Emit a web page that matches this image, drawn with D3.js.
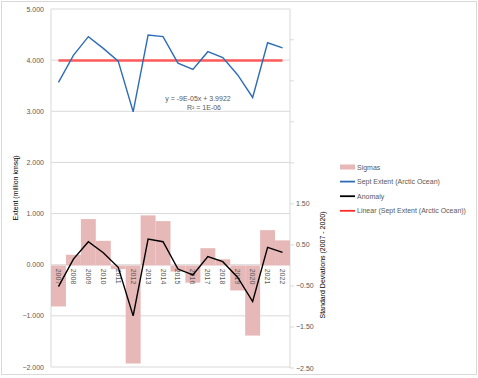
<!DOCTYPE html>
<html><head><meta charset="utf-8">
<script src="https://cdn.jsdelivr.net/npm/d3@7"></script>
<style>body{margin:0;background:#fff}svg{display:block}text{font-family:"Liberation Sans",Arial,sans-serif}</style>
</head><body>
<svg id="c" width="478" height="378"></svg>
<script>
const years = ["2007","2008","2009","2010","2011","2012","2013","2014","2015","2016","2017","2018","2019","2020","2021","2022"];
const extent = [3.567,4.094,4.459,4.23,3.98,2.99,4.49,4.46,3.94,3.82,4.165,4.05,3.71,3.27,4.34,4.24];
const anomaly = [-0.43,0.11,0.45,0.235,-0.05,-1.0,0.50,0.45,-0.085,-0.2,0.16,0.06,-0.25,-0.72,0.34,0.24];
const sigmas = [-1.0,0.26,1.13,0.6,-0.09,-2.39,1.22,1.08,-0.15,-0.42,0.42,0.15,-0.61,-1.71,0.86,0.61];
const trendSlope = -9e-5, trendIntercept = 3.9922;
const leftTicks = [-2,-1,0,1,2,3,4,5];
const rightTicks = [-2.5,-1.5,-0.5,0.5,1.5];
const rightTickMarks = [-2.5,-1.5,-0.5,0.5,1.5,2.5,3.5,4.5,5.5];
const legendItems = [
  {name:"Sigmas", type:"rect", color:"#e6b8b7"},
  {name:"Sept Extent (Arctic Ocean)", type:"line", color:"#2e6db6"},
  {name:"Anomaly", type:"line", color:"#000000"},
  {name:"Linear (Sept Extent (Arctic Ocean))", type:"line", color:"#ff2a2a"}
];

const svg = d3.select("#c");
const L = 51, R = 290, T = 9, B = 367;
const x = d3.scaleBand().domain(years).range([L, R]).padding(0);
const yL = d3.scaleLinear().domain([-2, 5]).range([B, T]);
const yR = d3.scaleLinear().domain([-2.5, 6.25]).range([368, T]);
const cx = d => x(d) + x.bandwidth()/2;

// outer border
svg.append("rect").attr("x",1.5).attr("y",1.5).attr("width",475).attr("height",373)
  .attr("fill","none").attr("stroke","#d9d9d9");

// gridlines
svg.append("g").selectAll("line").data(leftTicks).join("line")
  .attr("x1",L).attr("x2",R).attr("y1",d=>yL(d)).attr("y2",d=>yL(d))
  .attr("stroke","#d9d9d9").attr("stroke-width",1);
// left & right axis lines
svg.append("line").attr("x1",L).attr("x2",L).attr("y1",T).attr("y2",B).attr("stroke","#d9d9d9");
svg.append("line").attr("x1",R).attr("x2",R).attr("y1",T).attr("y2",B+1).attr("stroke","#d9d9d9");
svg.append("g").selectAll("line").data(rightTickMarks).join("line")
  .attr("x1",R).attr("x2",R+4).attr("y1",d=>yR(d)).attr("y2",d=>yR(d)).attr("stroke","#d9d9d9");

// left tick labels
svg.append("g").selectAll("text").data(leftTicks).join("text")
  .attr("x",44).attr("y",d=>yL(d)+2.5).attr("text-anchor","end")
  .attr("font-size",7).attr("fill","#595959").text(d=>d3.format(".3f")(d));
// right tick labels
svg.append("g").selectAll("text").data(rightTicks).join("text")
  .attr("x",296).attr("y",d=>yR(d)+2.5).attr("text-anchor","start")
  .attr("font-size",7).attr("fill","#595959").text(d=>d3.format(".2f")(d));

// bars (right axis)
svg.append("g").selectAll("rect").data(years).join("rect")
  .attr("x",d=>x(d)).attr("width",x.bandwidth())
  .attr("y",(d,i)=>Math.min(yR(0),yR(sigmas[i])))
  .attr("height",(d,i)=>Math.abs(yR(sigmas[i])-yR(0)))
  .attr("fill","#e6b8b7");

// year labels
svg.append("g").selectAll("text").data(years).join("text")
  .attr("transform",d=>`translate(${cx(d)-2.5},${yL(0)+4}) rotate(90)`)
  .attr("font-size",7).attr("fill","#595959").text(d=>d);

// trend line
const xi = years.map((d,i)=>i+1);
const trend = d3.line().x(d=>cx(years[d-1])).y(d=>yL(trendIntercept + trendSlope*d));
svg.append("path").datum([xi[0], xi[xi.length-1]]).attr("d",trend)
  .attr("fill","none").attr("stroke","#ff5a5a").attr("stroke-width",2.5);

// extent line
const lineL = d3.line().x((d,i)=>cx(years[i])).y(d=>yL(d));
svg.append("path").datum(extent).attr("d",lineL)
  .attr("fill","none").attr("stroke","#2e6db6").attr("stroke-width",1.4);
// anomaly line
svg.append("path").datum(anomaly).attr("d",lineL)
  .attr("fill","none").attr("stroke","#000").attr("stroke-width",1.4);

// trend equation
svg.append("text").attr("x",198).attr("y",101).attr("text-anchor","middle")
  .attr("font-size",7).attr("fill","#595959").text("y = -9E-05x + 3.9922");
svg.append("text").attr("x",204).attr("y",110).attr("text-anchor","middle")
  .attr("font-size",7).attr("fill","#595959").text("R² = 1E-06");

// axis titles
svg.append("text").attr("transform","translate(18,188) rotate(-90)").attr("text-anchor","middle")
  .attr("font-size",7).attr("fill","#000").text("Extent (million kmsq)");
svg.append("text").attr("transform","translate(325,265) rotate(-90)").attr("text-anchor","middle")
  .attr("font-size",7).attr("fill","#000").text("Standard Deviations (2007 - 2020)");

// legend
const lg = svg.append("g").selectAll("g").data(legendItems).join("g")
  .attr("transform",(d,i)=>`translate(340,${167+i*14.6})`);
lg.filter(d=>d.type==="rect").append("rect").attr("x",0).attr("y",-2.5).attr("width",15).attr("height",5).attr("fill",d=>d.color);
lg.filter(d=>d.type==="line").append("line").attr("x1",0).attr("x2",15).attr("y1",0).attr("y2",0)
  .attr("stroke",d=>d.color).attr("stroke-width",1.8);
lg.append("text").attr("x",17).attr("y",2.5).attr("font-size",7).attr("fill","#595959").text(d=>d.name);
</script>
</body></html>
